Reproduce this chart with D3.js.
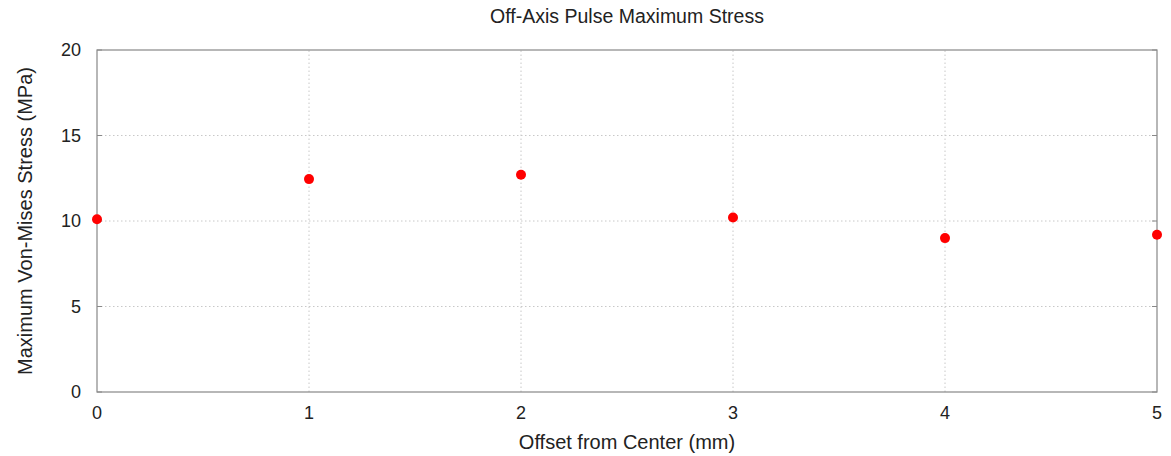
<!DOCTYPE html>
<html>
<head>
<meta charset="utf-8">
<script src="https://cdn.jsdelivr.net/npm/d3@7"></script>
<style>
  body { margin: 0; background: #fff; }
  text { font-family: "Liberation Sans", Arial, sans-serif; fill: #222; }
  .grid line { stroke: #c8c8c8; stroke-dasharray: 1.5 2.5; }
</style>
</head>
<body>
<script>
const offsets = [0, 1, 2, 3, 4, 5];
const stress = [10.1, 12.45, 12.7, 10.2, 9.0, 9.2];
const xTicks = [0, 1, 2, 3, 4, 5];
const yTicks = [0, 5, 10, 15, 20];

const width = 1171;
const height = 456;
const margin = { top: 50, right: 14, bottom: 64, left: 97 };

const svg = d3.select("body").append("svg")
  .attr("width", width)
  .attr("height", height);

const x = d3.scaleLinear().domain([0, 5]).range([margin.left, width - margin.right]);
const y = d3.scaleLinear().domain([0, 20]).range([height - margin.bottom, margin.top]);

// grid
svg.append("g").attr("class", "grid")
  .selectAll("line").data(xTicks.slice(1, -1)).enter().append("line")
  .attr("x1", d => x(d)).attr("x2", d => x(d))
  .attr("y1", y(0)).attr("y2", y(20));
svg.append("g").attr("class", "grid")
  .selectAll("line").data(yTicks.slice(1, -1)).enter().append("line")
  .attr("x1", x(0)).attr("x2", x(5))
  .attr("y1", d => y(d)).attr("y2", d => y(d));

// frame
svg.append("rect")
  .attr("x", x(0)).attr("y", y(20))
  .attr("width", x(5) - x(0)).attr("height", y(0) - y(20))
  .attr("fill", "none").attr("stroke", "#888").attr("stroke-width", 1.2);

// ticks (inside, mirrored)
const tickLen = 5;
svg.append("g").selectAll("line").data(yTicks).enter().append("line")
  .attr("x1", x(0)).attr("x2", x(0) + tickLen)
  .attr("y1", d => y(d)).attr("y2", d => y(d)).attr("stroke", "#888");
svg.append("g").selectAll("line").data(yTicks).enter().append("line")
  .attr("x1", x(5)).attr("x2", x(5) - tickLen)
  .attr("y1", d => y(d)).attr("y2", d => y(d)).attr("stroke", "#888");

// tick labels
svg.append("g").selectAll("text").data(yTicks).enter().append("text")
  .attr("x", x(0) - 16).attr("y", d => y(d))
  .attr("dy", "0.35em").attr("text-anchor", "end")
  .style("font-size", "18px").text(d => d);
svg.append("g").selectAll("text").data(xTicks).enter().append("text")
  .attr("x", d => x(d)).attr("y", y(0) + 27)
  .attr("text-anchor", "middle")
  .style("font-size", "18px").text(d => d);

// points
svg.append("g").selectAll("circle").data(offsets).enter().append("circle")
  .attr("cx", (d) => x(d))
  .attr("cy", (d, i) => y(stress[i]))
  .attr("r", 5)
  .attr("fill", "#f00");

// titles
svg.append("text")
  .attr("x", (x(0) + x(5)) / 2).attr("y", 23)
  .attr("text-anchor", "middle")
  .style("font-size", "19.5px")
  .text("Off-Axis Pulse Maximum Stress");
svg.append("text")
  .attr("x", (x(0) + x(5)) / 2).attr("y", 449)
  .attr("text-anchor", "middle")
  .style("font-size", "20px")
  .text("Offset from Center (mm)");
svg.append("text")
  .attr("transform", `translate(32, ${(y(0) + y(20)) / 2}) rotate(-90)`)
  .attr("text-anchor", "middle")
  .style("font-size", "20px")
  .text("Maximum Von-Mises Stress (MPa)");
</script>
</body>
</html>
